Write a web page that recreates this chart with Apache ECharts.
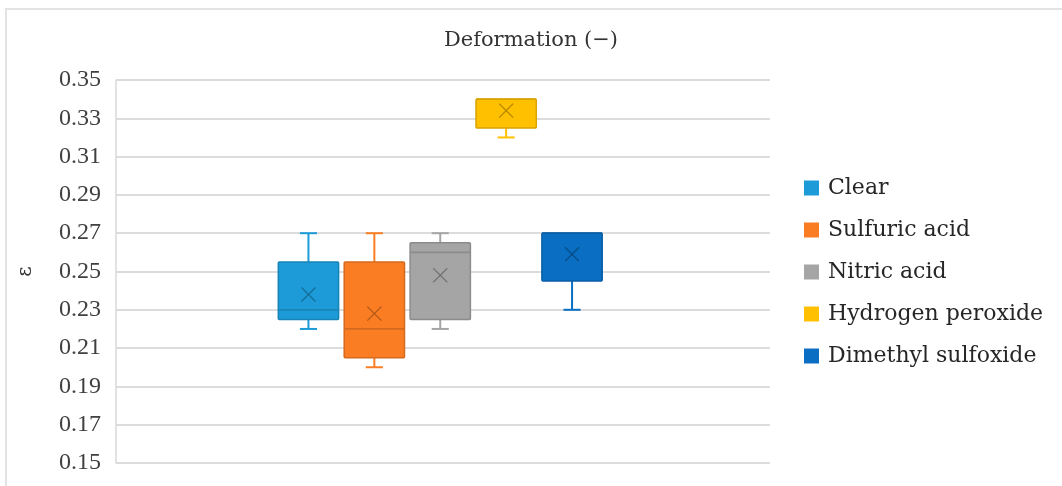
<!DOCTYPE html>
<html>
<head>
<meta charset="utf-8">
<script src="https://cdn.jsdelivr.net/npm/echarts@6/dist/echarts.min.js"></script>
<style>html,body{margin:0;padding:0;background:#fff;}#c{width:1062px;height:486px;}</style>
</head>
<body>
<div id="c"></div>
<script>
// ---- data ----
var seriesNames = ['Clear', 'Sulfuric acid', 'Nitric acid', 'Hydrogen peroxide', 'Dimethyl sulfoxide'];
var mins    = [0.22, 0.20, 0.22, 0.32, 0.23];
var q1s     = [0.225, 0.205, 0.225, 0.325, 0.245];
var medians = [0.23, 0.22, 0.26, 0.34, 0.27];
var q3s     = [0.255, 0.255, 0.265, 0.34, 0.27];
var maxs    = [0.27, 0.27, 0.27, 0.34, 0.27];
var means   = [0.238, 0.228, 0.248, 0.334, 0.259];
var yTicks  = { min: 0.15, max: 0.35, step: 0.02 };
var titleText = 'Deformation (\u2212)';
var yName = '\u03b5';
// ---- style ----
var colors = ['#1C9BD8', '#FA7D24', '#A5A5A5', '#FFC000', '#0A6FC2'];
var FONT = 'DejaVu Serif';
var NUMFONT = 'Liberation Serif';

function darken(hex, k) {
  var c = echarts.color.parse(hex);
  return 'rgb(' + Math.round(c[0] * (1 - k)) + ',' + Math.round(c[1] * (1 - k)) + ',' + Math.round(c[2] * (1 - k)) + ')';
}

var chart = echarts.init(document.getElementById('c'));

function renderBox(params, api) {
  var idx = params.seriesIndex;
  var base = colors[idx];
  var dark = darken(base, 0.15);
  var darker = darken(base, 0.3);
  var x = api.coord([api.value(0), 0])[0];
  var band = api.size([1, 0])[0];
  var bw = band * 0.915;
  var cap = band * 0.26;
  var yMin = api.coord([api.value(0), api.value(1)])[1];
  var yQ1 = api.coord([api.value(0), api.value(2)])[1];
  var yMed = api.coord([api.value(0), api.value(3)])[1];
  var yQ3 = api.coord([api.value(0), api.value(4)])[1];
  var yMax = api.coord([api.value(0), api.value(5)])[1];
  var yMean = api.coord([api.value(0), api.value(6)])[1];
  var lw = { stroke: base, lineWidth: 2 };
  var children = [];
  if (yMax < yQ3 - 0.5) {
    children.push({ type: 'line', shape: { x1: x, y1: yQ3, x2: x, y2: yMax }, style: lw });
    children.push({ type: 'line', shape: { x1: x - cap / 2, y1: yMax, x2: x + cap / 2, y2: yMax }, style: lw });
  }
  if (yMin > yQ1 + 0.5) {
    children.push({ type: 'line', shape: { x1: x, y1: yQ1, x2: x, y2: yMin }, style: lw });
    children.push({ type: 'line', shape: { x1: x - cap / 2, y1: yMin, x2: x + cap / 2, y2: yMin }, style: lw });
  }
  children.push({
    type: 'rect',
    shape: { x: x - bw / 2, y: yQ3, width: bw, height: yQ1 - yQ3, r: 1 },
    style: { fill: base, stroke: dark, lineWidth: 1.5 }
  });
  children.push({ type: 'line', shape: { x1: x - bw / 2, y1: yMed, x2: x + bw / 2, y2: yMed }, style: { stroke: dark, lineWidth: 1.8 } });
  var m = 7;
  children.push({ type: 'line', shape: { x1: x - m, y1: yMean - m, x2: x + m, y2: yMean + m }, style: { stroke: darker, lineWidth: 1.3 } });
  children.push({ type: 'line', shape: { x1: x - m, y1: yMean + m, x2: x + m, y2: yMean - m }, style: { stroke: darker, lineWidth: 1.3 } });
  return { type: 'group', children: children };
}

var series = seriesNames.map(function (name, i) {
  return {
    name: name,
    type: 'custom',
    xAxisIndex: 1,
    yAxisIndex: 1,
    itemStyle: { color: colors[i] },
    renderItem: renderBox,
    encode: { x: 0, y: [1, 2, 3, 4, 5, 6] },
    data: [[i, mins[i], q1s[i], medians[i], q3s[i], maxs[i], means[i]]],
    z: 3
  };
});

chart.setOption({
  animation: false,
  backgroundColor: '#fff',
  title: {
    text: titleText,
    left: 'center',
    top: 25,
    textStyle: { fontFamily: FONT, fontSize: 21, fontWeight: 'normal', color: '#333' }
  },
  legend: {
    orient: 'vertical',
    left: 799,
    top: 172,
    icon: 'rect',
    itemWidth: 15,
    itemHeight: 15,
    itemGap: 20,
    data: seriesNames,
    textStyle: { fontFamily: FONT, fontSize: 22, color: '#262626', lineHeight: 22, padding: [0, 0, 0, 4] }
  },
  graphic: [{
    type: 'rect',
    shape: { x: 6, y: 9, width: 1070, height: 500 },
    style: { fill: 'none', stroke: '#E3E3E3', lineWidth: 2 },
    silent: true,
    z: -1
  }],
  grid: [
    { left: 116, right: 292, top: 80, bottom: 23 },
    { left: 275.5, right: 457, top: 80, bottom: 23 }
  ],
  xAxis: [
    { type: 'category', gridIndex: 0, data: [''], show: false },
    { type: 'category', gridIndex: 1, data: seriesNames, show: false, boundaryGap: true }
  ],
  yAxis: [
    {
      type: 'value', gridIndex: 0,
      min: yTicks.min, max: yTicks.max, interval: yTicks.step,
      name: yName, nameLocation: 'middle', nameGap: 80, nameRotate: 90,
      nameTextStyle: { fontFamily: FONT, fontSize: 20, color: '#333' },
      axisLine: { show: true, lineStyle: { color: '#D9D9D9', width: 1.5 } },
      axisTick: { show: false },
      axisLabel: {
        margin: 15, fontFamily: NUMFONT, fontSize: 24, color: '#404040',
        formatter: function (v) { return v.toFixed(2); }
      },
      splitLine: { show: true, lineStyle: { color: '#DCDCDC', width: 1.8 } }
    },
    {
      type: 'value', gridIndex: 1,
      min: yTicks.min, max: yTicks.max, interval: yTicks.step,
      show: false, splitLine: { show: false }
    }
  ],
  series: series
});
</script>
</body>
</html>
